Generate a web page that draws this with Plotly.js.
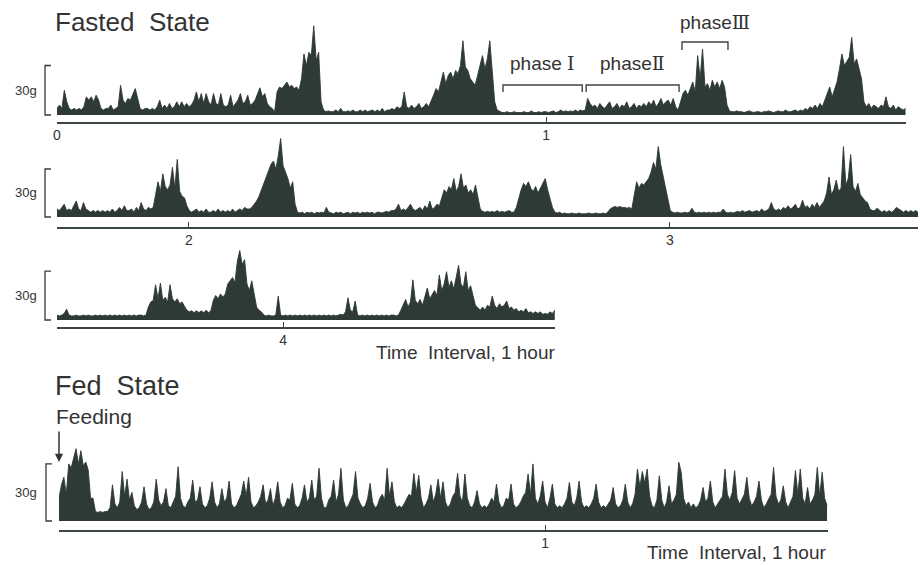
<!DOCTYPE html>
<html>
<head>
<meta charset="utf-8">
<script src="https://cdn.plot.ly/plotly-3.0.1.min.js"></script>
<style>
html,body{margin:0;padding:0;background:#fff;}
#chart{width:920px;height:565px;}
</style>
</head>
<body>
<div id="chart"></div>
<script>
// ---------------- DATA ----------------
// sampling interval of the digitised traces, hours
const SAMPLE_STEP_H = 0.005;

// Fasted state, three strips of one continuous recording (force, g)
const fastedRow1Start = 0;
const fastedRow1 = [
4,6,4,15,8,4,3,4,3,4,
3,5,11,9,11,8,12,9,4,3,
4,4,6,3,4,5,18,9,7,10,
9,12,16,10,4,3,4,4,3,4,
3,5,9,4,6,4,7,4,5,8,
5,8,5,7,5,6,9,14,8,13,
7,13,8,6,13,7,6,13,6,5,
6,12,5,7,9,13,7,8,12,6,
7,9,13,16.5,11,13,7,5,4,2,
14,17,16,18,20,17,18,16,17,15,
22,37,30,38,36,54,33,38,8,3,
2,2.5,2,2,3,2,4,2,2,2.5,
2,3,2,2,3,2,3,2,2.5,3,
2,3,2,4,2,3,3,4,3,5,
4,5,14,5,4,6,4,5,7,4,
5,7,5,8,12,16,14,20,26,19,
24,26,22,27,25,30,45,29,27,22,
20,18,24,30,36,28,34,45,26,8,
3,2,1.5,1.5,2,1.5,1.5,2,1.5,1.5,
1.5,2,1.5,1.5,2.5,1.5,1.5,2,1.5,2,
2,1.5,2,2.5,1.5,2,3,2,2.5,2,
2.5,2,3,2,3,2.5,3,10,7,5,
6,4,7,5,4,6,8,4,5,7,
4,6,5,8,4,5,7,4,6,5,
7,5,8,6,9,5,7,10,6,8,
9,6,10,5,3,8,13,15,12,16,
20,14,36,22,40,17,19,15,21,17,
20,16,21,17,6,2.5,2,2,2.5,2,
2,1.5,2,2.5,2,1.5,2,2,1.5,2,
2,2.5,2,1.5,2,2.5,2,2,3,2,
2,2.5,3,2,3,2.5,4,3,5,4,
6,4,7,5,9,12,17,11,15,20,
28,37,30,33,35,47,31,34,28,22,
8,5,7,4,6,5,4,6,5,11,
5,4,6,3,5,4,3,4
];

const fastedRow2Start = 1.7256;
const fastedRow2 = [
5,4,6,8,4,5,4,7,10,5,
4,9,5,4,3,4,3,4,3,4,
3,4,3,5,3,4,6,4,7,4,
4,5,3,6,4,9,5,4,6,5,
6,14,22,16,27,19,17,20,31,18,
36,16,13,12,7,4,3,4,5,3,
4,3,5,3,3,4,3,5,3,4,
3,4,3,5,3,4,5,4,6,5,
5,6,8,10,13,17,21,25,29,33,
35,30,38,49,32,28,24,18,22,8,
3,2.5,3,2,3,2.5,3,2,3,2.5,
3,2.5,6,3,2.5,2,3,2.5,3,2,
2.5,3,2,3,2.5,3,2,3,2.5,3,
2.5,3,2,3,3,2.5,3,3.5,3,4,
4,5,8,4,5,4,6,8,5,4,
5,6,4,7,5,10,5,6,8,7,
12,17,15,19,17,24,16,19,27,18,
20,15,17,14,20,12,5,3.5,3,3.5,
3,3.5,3,4,3,3.5,3,3.5,4,3,
3,6,12,17,21,19,22,18,16,19,
15,18,20,24,17,12,6,3,2.5,3,
2,2.5,2,2,2.5,2,2,2.5,2,2,
2,2.5,2,2,2.5,2,2,2.5,2,3,
5,6,6.5,6,6.5,6,6,5.5,6,5,
14,22,18,21,20,22,24,28,34,30,
44,33,26,19,12,4,3,2.5,3,2.5,
2.5,3,2.5,3,5.5,3,2.5,3,2.5,3,
2.5,3,2.5,3,2.5,3,3,5,3,2.5,
3,2.5,3,3.5,3,4,3,3.5,4,3,
3.5,4,3,5,3.5,4,5,9,5,4,
5,4,6,5,7,5,6,8,5,6,
10.5,6,7,5,8,6,9,6,8,10,
15,25,14,17,23,16,18,44,20,24,
39,19,16,21,14,12,10,9,5,4,
4,5.5,4,3,4,3,4,3,4,6,
5,4,3,4,3,4,3,4,3
];

const fastedRow3Start = 3.530;
const fastedRow3 = [
3,2.5,3,4,6.6,3,2.5,2.5,3,2.5,
2.5,3,2.5,3,2.5,2.5,3,2.5,3,2.5,
3,2.5,3,2.5,3,2.5,3,2.5,3,2.5,
3,2.5,3,2.5,3,3,2.5,3,8,11,
12,21.6,13,22.6,12,14,11,21.6,13,11,
13,10,11,8,6,5,5.6,4.5,5.6,4.5,
5.6,4.5,6,4.5,5.6,12,15,13,16,14,
16,22,24,26,23,36,42.6,34,37,22,
18,24,16,8,6,5,3,2.5,3,2.5,
2.5,3,14.6,3,2.5,3,2.5,3,2.5,3,
2.5,3,2.5,3,2.5,3,2.5,3,2.5,3,
2.5,3,2.5,3,2.5,3,2.5,3,3.5,3,
5,13.6,6,5,11.6,3,2.5,3,2.5,3,
2.5,3,2.5,3,2.5,3,2.5,3,2.5,3,
3,2.5,3,6,9,12.6,8,11,24.6,12,
10,12.6,9,14,19.6,13,16,18,15,27.6,
18,22,29.6,20,24,19,26,33.6,22,20,
29.6,18,21,14,9,7.6,6,8,6,9,
8,14.6,9,7,10,8,9,11.6,7,8,
6,7,5,6,5,7,4.5,5,4,5,
4,5,3.5,4,3.5,5,4,6
];

// Fed state (feeding at time 0)
const fedStart = 0;
const fedValues = [
12,19,23,14,30,28,33,38,30,37,
29,31,27,12,12,5,4.5,5,4.5,5,
5,7,19,9,7,10,26,13,22,11,
15,8,6,7,10,18,9,6,7,10,
22,11,8,10,17,8,7,10,13,28.5,
12,8,7,10,12,21.5,10,11,18,9,
7,8,12,20.6,10,7,9,17,10,12,
21,9,7,8,11,14,21,13,23,10,
7,8,10,13,19,9,11,17,8,12,
20.6,10,7,8,12,11,19.8,9,7,8,
12,19,10,12,21.5,11,13,27.7,12,7,
7,11,13,21.5,10,14,27.7,11,7,8,
11,14,26,12,9,7,8,12,19.8,10,
7,8,12,14,11,27.7,13,20.6,10,7,
8,7,9,12,14,13,25,15,24,12,
7,9,12,19,10,14,22,12,20.6,10,
7,9,13,15,25,13,10,24.7,12,8,
7,10,16,9,7,8,7,9,12,10,
19.4,10,7,8,12,11,19.4,9,7,8,
10,13,15,24.7,14,30,12,9,13,21,
10,7,12,19.4,9,7,8,7,9,12,
20.3,10,8,12,21,10,7,8,7,9,
12,19.4,10,7,8,7,9,11,17.6,9,
7,8,11,19.4,10,7,9,14,27.3,18,
26,20,27.3,13,8,7,11,23.8,11,7,
10,18.5,9,11,14,30.9,25.6,12,8,10,
7,9,7,8,11,17.6,10,12,21,10,
7,9,11,13,27.3,14,11,15,26.5,12,
9,12,14,23,12,8,10,13,21,11,
7,9,12,14,28.2,13,9,11,18.5,10,
7,10,13,26.5,14,27.3,12,9,17.6,9,
11,14,28.2,13,25.6,12,8
];

// hour tick marks on each strip
const row1Ticks = [0, 1];
const row2Ticks = [2, 3];
const row3Ticks = [4];
const fedTicks = [1];

// MMC phase brackets on the first strip (hours)
const phaseWord = ['phase\u00a0', 'phase', 'phase'];
const phaseNumeral = ['Ⅰ', 'Ⅱ', 'Ⅲ'];
const phaseStart = [0.912, 1.082, 1.278];
const phaseEnd = [1.074, 1.272, 1.372];
const phaseLevel = [18.2, 18.2, 44.2];   // g

const scaleBarG = 30;

// ---------------- BUILD ----------------
function times(start, n) {
  const t = [];
  for (let i = 0; i < n; i++) t.push(+(start + i * SAMPLE_STEP_H).toFixed(5));
  return t;
}
const INK = '#2e3a34';
const TEXT = '#333333';
const FONT = 'Liberation Sans, Arial, Helvetica, sans-serif';
const NUM_FONT = 'DejaVu Serif, Liberation Serif, serif';

function trace(start, vals, xa, ya) {
  return {
    type: 'scatter', mode: 'lines', x: times(start, vals.length), y: vals,
    xaxis: xa, yaxis: ya, fill: 'tozeroy', fillcolor: INK,
    line: {color: INK, width: 0.9}, hoverinfo: 'skip'
  };
}
const data = [
  trace(fastedRow1Start, fastedRow1, 'x', 'y'),
  trace(fastedRow2Start, fastedRow2, 'x2', 'y2'),
  trace(fastedRow3Start, fastedRow3, 'x3', 'y3'),
  trace(fedStart, fedValues, 'x4', 'y4')
];

function xAx(domain, range, ticks, anchor) {
  return {
    domain: domain, range: range, anchor: anchor,
    showline: true, linecolor: '#3a4640', linewidth: 1.5,
    ticks: 'inside', ticklen: 5, tickwidth: 1, tickcolor: '#3a4640',
    tickmode: 'array', tickvals: ticks, ticktext: ticks.map(String),
    tickfont: {family: FONT, size: 14, color: TEXT},
    showgrid: false, zeroline: false, fixedrange: true
  };
}
function yAx(domain, range, anchor) {
  return {domain: domain, range: range, anchor: anchor, visible: false,
          showgrid: false, zeroline: false, fixedrange: true};
}
const W = 920, H = 565;
const px = v => v / W;
const py = v => 1 - v / H;

const shapes = [];
const annotations = [];

// 30 g scale brackets
[['y', 45, 51], ['y2', 45, 51], ['y3', 45, 51], ['y4', 46, 52]].forEach(([yr, a, b]) => {
  shapes.push({type: 'path', xref: 'paper', yref: yr,
    path: `M ${px(b)},${scaleBarG} L ${px(a)},${scaleBarG} L ${px(a)},0 L ${px(b)},0`,
    line: {color: '#3a3a3a', width: 1.3}});
  annotations.push({xref: 'paper', yref: yr, x: px(39), y: scaleBarG / 2,
    xanchor: 'right', yanchor: 'middle', text: scaleBarG + 'g', showarrow: false,
    font: {family: FONT, size: 13, color: TEXT}});
});

// phase brackets
phaseWord.forEach((word, k) => {
  const lo = phaseLevel[k] - (k === 2 ? 4.8 : 4.3);
  shapes.push({type: 'path', xref: 'x', yref: 'y',
    path: `M ${phaseStart[k]},${lo} L ${phaseStart[k]},${phaseLevel[k]} L ${phaseEnd[k]},${phaseLevel[k]} L ${phaseEnd[k]},${lo}`,
    line: {color: '#444', width: 1.4}});
  annotations.push({xref: 'x', yref: 'y', x: (phaseStart[k] + phaseEnd[k]) / 2 + (k === 2 ? 0.02 : 0.0),
    y: phaseLevel[k] + (k === 2 ? 4 : 5.5), xanchor: 'center', yanchor: 'bottom',
    text: word + '<span style="font-family:' + NUM_FONT + '">' + phaseNumeral[k] + '</span>',
    showarrow: false, font: {family: FONT, size: 19, color: TEXT}});
});

annotations.push(
  {xref: 'paper', yref: 'paper', x: px(53), y: py(22), xanchor: 'left', yanchor: 'middle',
   text: 'Fasted\u00a0 State', showarrow: false, font: {family: FONT, size: 26, color: TEXT}},
  {xref: 'paper', yref: 'paper', x: px(53), y: py(386), xanchor: 'left', yanchor: 'middle',
   text: 'Fed\u00a0 State', showarrow: false, font: {family: FONT, size: 27, color: TEXT}},
  {xref: 'paper', yref: 'paper', x: px(54), y: py(416), xanchor: 'left', yanchor: 'middle',
   text: 'Feeding', showarrow: false, font: {family: FONT, size: 21, color: TEXT}},
  {xref: 'paper', yref: 'paper', x: px(465), y: py(352), xanchor: 'center', yanchor: 'middle',
   text: 'Time\u00a0 Interval, 1 hour', showarrow: false, font: {family: FONT, size: 19, color: TEXT}},
  {xref: 'paper', yref: 'paper', x: px(736), y: py(552), xanchor: 'center', yanchor: 'middle',
   text: 'Time\u00a0 Interval, 1 hour', showarrow: false, font: {family: FONT, size: 19, color: TEXT}},
  {xref: 'paper', yref: 'paper', x: px(59), y: py(462), text: '', showarrow: true,
   axref: 'pixel', ayref: 'pixel', ax: 0, ay: -32, arrowhead: 2, arrowsize: 1.1, arrowwidth: 1.5,
   arrowcolor: '#333'}
);

const layout = {
  width: W, height: H, margin: {l: 0, r: 0, t: 0, b: 0},
  paper_bgcolor: '#ffffff', plot_bgcolor: 'rgba(0,0,0,0)', showlegend: false,
  xaxis:  xAx([px(57), px(906)], [0, 1.736], row1Ticks, 'y'),
  yaxis:  yAx([py(122), py(15)], [-4.24, 60.6], 'x'),
  xaxis2: xAx([px(57), px(918)], [1.7256, 3.5156], row2Ticks, 'y2'),
  yaxis2: yAx([py(227), py(128)], [-6.25, 55.6], 'x2'),
  xaxis3: xAx([px(57), px(555)], [3.530, 4.5655], row3Ticks, 'y3'),
  yaxis3: yAx([py(327), py(235)], [-4.3, 52.1], 'x3'),
  xaxis4: xAx([px(59), px(828)], [0, 1.582], fedTicks, 'y4'),
  yaxis4: yAx([py(530), py(440)], [-4.74, 42.6], 'x4'),
  shapes: shapes, annotations: annotations
};

Plotly.newPlot('chart', data, layout, {displayModeBar: false, staticPlot: true});
</script>
</body>
</html>
